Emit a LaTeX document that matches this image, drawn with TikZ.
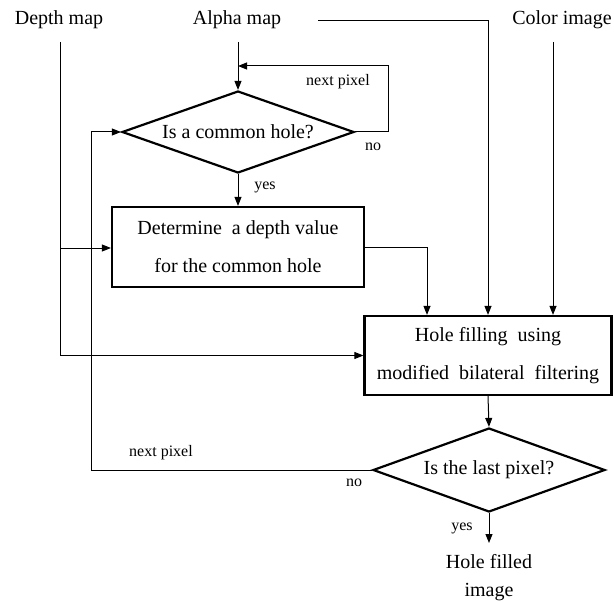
\documentclass[tikz,border=0pt]{standalone}
\usepackage{fontspec}
\setmainfont{Liberation Serif}
\usetikzlibrary{shapes.geometric,arrows.meta}
\begin{document}
\begin{tikzpicture}[x=1pt,y=-1pt,
  main/.style={font=\fontsize{20}{24}\selectfont, inner sep=0pt},
  lab/.style={font=\fontsize{16}{18}\selectfont, inner sep=0pt},
  box/.style={draw, line width=2.2pt, inner sep=0pt, align=center,
    font=\fontsize{20}{38}\selectfont},
  dia/.style={draw, shape=diamond, line width=2.2pt, inner sep=0pt, aspect=2.8,
    font=\fontsize{20}{24}\selectfont},
  conn/.style={line width=1pt, -{Triangle[length=9pt,width=7pt]}},
]
\useasboundingbox (0,0) rectangle (614,602);

\node[main] (depth) at (59,20) {Depth map};
\node[main] (alpha) at (237,20) {Alpha map};
\node[main] (color) at (562,20) {Color image};

\node[dia, minimum width=232pt, minimum height=82pt] (d1) at (238,132) {Is a common hole?};
\node[box, minimum width=252pt, minimum height=80pt] (b1) at (238,247)
  {Determine \ a depth value\\for the common hole};
\node[box, minimum width=247pt, minimum height=79pt] (b2) at (488,355.5)
  {Hole filling \ using\\modified \ bilateral \ filtering};
\node[dia, minimum width=232pt, minimum height=84pt] (d2) at (489,470) {Is the last pixel?};
\node[main, align=center, font=\fontsize{20}{28}\selectfont] (out) at (489,578) {Hole filled\\image};

\coordinate (dtop) at (60,42);
\coordinate (atop) at (238,42);
\coordinate (aright) at (318,21);
\coordinate (ctop) at (553,42);
\coordinate (dbr) at (60,248);
\coordinate (k1) at (427,0);
\coordinate (lp) at (388,66);
\coordinate (lx) at (91,0);
\coordinate (oend) at (489,543);

\draw[conn] (dtop) |- (b2.west);
\draw[conn] (dbr) -- (dbr -| b1.west);
\draw[conn] (atop) -- (d1.north);
\draw[conn] (d1.south) -- (b1.north);
\draw[conn] (aright) -| (b2.north);
\draw[conn] (ctop) -- (ctop |- b2.north);
\draw[conn] (b1.east) -| (k1 |- b2.north);
\draw[conn] (b2.south) -- (d2.north);
\draw[conn] (d2.south) -- (oend);
\draw[conn] (d1.east) -| (lp) -- (lp -| atop);
\draw[conn] (d2.west) -- (d2.west -| lx) |- (d1.west);

\node[lab] (l1) at (338,82) {next pixel};
\node[lab] (l2) at (373,147) {no};
\node[lab] (l3) at (265,187) {yes};
\node[lab] (l4) at (161,453) {next pixel};
\node[lab] (l5) at (354,483) {no};
\node[lab] (l6) at (462,528) {yes};
\end{tikzpicture}
\end{document}
